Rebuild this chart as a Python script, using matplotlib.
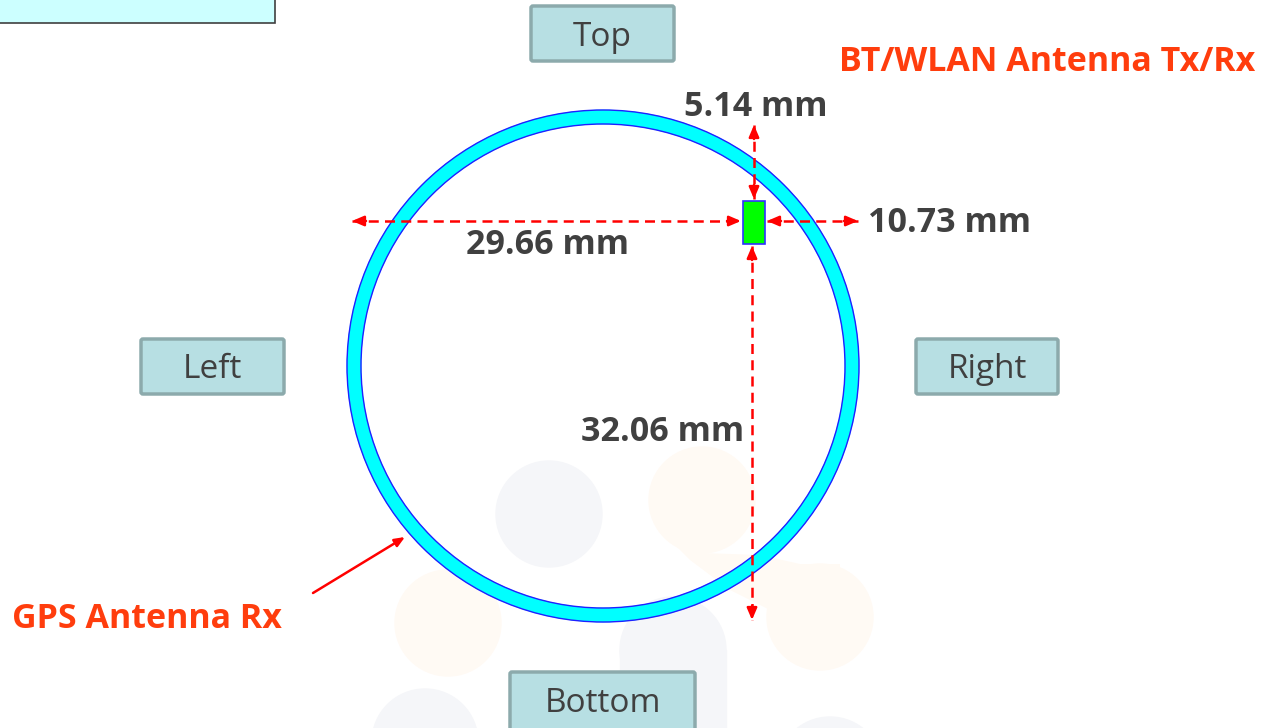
import matplotlib
matplotlib.use("Agg")
import matplotlib.pyplot as plt
from matplotlib.patches import Circle, Rectangle, FancyBboxPatch

plt.rcParams['font.family'] = ['Open Sans', 'DejaVu Sans']

# side labels and dimension readings (mm)
side_labels = ["Top", "Left", "Right", "Bottom"]
dim_names = ["top_gap", "right_gap", "left_span", "bottom_span"]
dim_values = [5.14, 10.73, 29.66, 32.06]
antenna_labels = ["BT/WLAN Antenna Tx/Rx", "GPS Antenna Rx"]

W, H = 1270, 728
fig = plt.figure(figsize=(W / 100, H / 100), dpi=100)
ax = fig.add_axes([0, 0, 1, 1])
ax.set_xlim(0, W)
ax.set_ylim(H, 0)
ax.axis("off")

# faint background decoration
gray = "#f5f6f9"
peach = "#fffaf4"
for x, y, c in [(549, 514, gray), (702, 500, peach), (820, 617, peach),
                (448, 623, peach), (673, 650, gray), (425, 742, gray),
                (830, 770, gray)]:
    ax.add_patch(Circle((x, y), 53, color=c, zorder=0))
# joins between the blob circles
ax.fill([660, 702, 760, 800, 840, 840, 770, 730, 690],
        [530, 553, 555, 564, 564, 617, 610, 590, 560], color=peach, lw=0, zorder=0)
ax.add_patch(Rectangle((620, 650), 106, 80, color=gray, zorder=0))

# top-left leftover box
ax.add_patch(Rectangle((-5, -10), 280, 33, facecolor="#ccffff",
                       edgecolor="#404040", lw=1.2, zorder=1))

# GPS ring
cx, cy = 603, 366
ax.add_patch(Circle((cx, cy), 249, fill=False, edgecolor="#00ffff", lw=10.5, zorder=2))
ax.add_patch(Circle((cx, cy), 256, fill=False, edgecolor="#2020ff", lw=1.0, zorder=3))
ax.add_patch(Circle((cx, cy), 242, fill=False, edgecolor="#2020ff", lw=1.0, zorder=3))

# BT/WLAN antenna block
ax.add_patch(Rectangle((743, 201), 22, 43, facecolor="#00ff00",
                       edgecolor="#3030ff", lw=1.2, zorder=4))

red = "#ff0000"


def dim_arrow(x0, y0, x1, y1):
    ax.plot([x0, x1], [y0, y1], color=red, lw=1.8, ls=(0, (4, 2.5)), zorder=5)
    for (a, b), (c, d) in [((x0, y0), (x1, y1)), ((x1, y1), (x0, y0))]:
        dx, dy = c - a, d - b
        n = (dx ** 2 + dy ** 2) ** 0.5
        ax.annotate("", xy=(a, b), xytext=(a + dx / n * 14, b + dy / n * 14),
                    arrowprops=dict(arrowstyle="-|>,head_length=0.7,head_width=0.3",
                                    color=red, lw=1.8, shrinkA=0, shrinkB=0),
                    zorder=6)


dim_arrow(754, 125, 754, 199)
dim_arrow(352, 221, 741, 221)
dim_arrow(767, 221, 858, 221)
dim_arrow(752, 246, 752, 620)

dim_text = dict(fontsize=24.5, fontweight="bold", color="#404040", zorder=7)
dims = dict(zip(dim_names, dim_values))
ax.text(756, 107, f"{dims['top_gap']:.2f} mm", ha="center", va="center", **dim_text)
ax.text(868, 223, f"{dims['right_gap']:.2f} mm", ha="left", va="center", **dim_text)
ax.text(547, 245, f"{dims['left_span']:.2f} mm", ha="center", va="center", **dim_text)
ax.text(663, 432, f"{dims['bottom_span']:.2f} mm", ha="center", va="center", **dim_text)

# orientation boxes
box_pos = {"Top": (531, 6, 143, 55), "Left": (141, 339, 143, 55),
           "Right": (916, 339, 142, 55), "Bottom": (510, 672, 185, 70)}
for lab in side_labels:
    x, y, w, h = box_pos[lab]
    ax.add_patch(FancyBboxPatch((x, y), w, h, boxstyle="round,pad=0,rounding_size=2",
                                facecolor="#b7dfe3", edgecolor="#8caaac", lw=2.5, zorder=4))
    ty = y + 31 if lab != "Bottom" else 704
    ax.text(x + w / 2, ty, lab, ha="center", va="center", fontsize=24,
            color="#404040", zorder=5)

# antenna captions
orange = "#ff3d0d"
ax.text(1255, 62, antenna_labels[0], ha="right", va="center", fontsize=24.5,
        fontweight="bold", color=orange, zorder=7)
ax.text(12, 619, antenna_labels[1], ha="left", va="center", fontsize=24.5,
        fontweight="bold", color=orange, zorder=7)
ax.annotate("", xy=(405, 537), xytext=(313, 593),
            arrowprops=dict(arrowstyle="-|>,head_length=0.6,head_width=0.25",
                            color=red, lw=1.8, shrinkA=0, shrinkB=0), zorder=6)

fig.savefig("out.png", dpi=100)
